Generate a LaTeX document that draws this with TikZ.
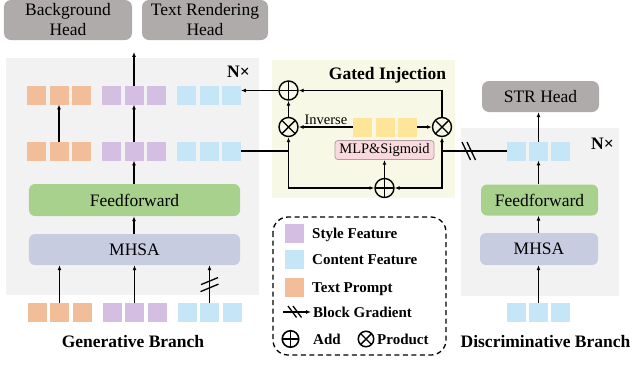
\documentclass[tikz,border=0pt]{standalone}
\usepackage{fontspec}
\setmainfont{Liberation Serif}
\usetikzlibrary{arrows.meta,calc}
\definecolor{headc}{HTML}{AFABAB}
\definecolor{genbg}{HTML}{F2F2F2}
\definecolor{gatebg}{HTML}{F7F8E5}
\definecolor{orc}{HTML}{F2BE9A}
\definecolor{puc}{HTML}{D4BEE2}
\definecolor{blc}{HTML}{C4E6F6}
\definecolor{grc}{HTML}{A9D18E}
\definecolor{mhc}{HTML}{C8CCE1}
\definecolor{yec}{HTML}{FFE599}
\definecolor{mlpf}{HTML}{F9D9DE}
\definecolor{mlpd}{HTML}{B09CA2}
\newcommand\fsA{\fontsize{17.5bp}{20bp}\selectfont}
\newcommand\fsB{\bfseries\fontsize{17.5bp}{20bp}\selectfont}
\newcommand\fsC{\bfseries\fontsize{15bp}{17bp}\selectfont}
\newcommand\fsD{\fontsize{14.5bp}{17bp}\selectfont}
\begin{document}
\begin{tikzpicture}[x=1bp,y=-1bp,
  sq/.style={minimum size=19bp,inner sep=0pt,outer sep=0pt},
  head/.style={fill=headc,rounded corners=7bp,inner sep=0pt,align=center,font=\fsA},
  blk/.style={rounded corners=6bp,inner sep=0pt,font=\fsA},
  ln/.style={line width=1.3bp},
  arr/.style={ln,-{Latex[length=4.8bp,width=3.8bp]}},
  opl/.style={circle,draw,line width=1.4bp,minimum size=#1,inner sep=0pt,
    path picture={\draw[line width=1.4bp] (path picture bounding box.north)--(path picture bounding box.south) (path picture bounding box.west)--(path picture bounding box.east);}},
  opl/.default=19bp,
  otm/.style={circle,draw,line width=1.4bp,minimum size=#1,inner sep=0pt,
    path picture={\draw[line width=1.4bp] (path picture bounding box.north west)--(path picture bounding box.south east) (path picture bounding box.south west)--(path picture bounding box.north east);}},
  otm/.default=19bp,
  lgt/.style={anchor=base west,font=\fsC,inner sep=0pt},
  ttl/.style={anchor=base,font=\fsB,inner sep=0pt},
  bmark/.style={line width=1.3bp}
]
\useasboundingbox (0,0) rectangle (633,364);
% panels
\fill[genbg] (6,58) rectangle (259,295);
\fill[gatebg] (272,60) rectangle (455,198);
\fill[genbg] (461,128) rectangle (619,296);
% heads
\node[head,minimum width=128bp,minimum height=40bp] (bgh) at (68,20) {Background\\Head};
\node[head,minimum width=126bp,minimum height=40bp] (trh) at (205,20) {Text Rendering\\Head};
\node[head,minimum width=117bp,minimum height=31bp] (str) at (540.5,96.5) {STR Head};
% generative tokens
\foreach \i/\x in {1/36.5,2/59,3/81.5}{
  \node[sq,fill=orc] (ot\i) at (\x,95) {};
  \node[sq,fill=orc] (om\i) at (\x,151) {};
  \node[sq,fill=orc] (ob\i) at (\x+0.5,312.5) {};
}
\foreach \i/\x in {1/111.5,2/134,3/156.5}{
  \node[sq,fill=puc] (pt\i) at (\x,95) {};
  \node[sq,fill=puc] (pm\i) at (\x,151) {};
  \node[sq,fill=puc] (pb\i) at (\x+0.5,312.5) {};
}
\foreach \i/\x in {1/186.5,2/209,3/231.5}{
  \node[sq,fill=blc] (bt\i) at (\x,95) {};
  \node[sq,fill=blc] (bm\i) at (\x,151) {};
  \node[sq,fill=blc] (bb\i) at (\x+0.5,312.5) {};
}
% generative blocks
\node[blk,fill=grc,minimum width=211bp,minimum height=32bp] (ffg) at (134.5,200) {Feedforward};
\node[blk,fill=mhc,minimum width=211bp,minimum height=31bp] (mhg) at (134.5,249.5) {MHSA};
\node[ttl] (gnx) at (238.5,77) {N×};
\node[ttl] (gbr) at (133,347) {Generative Branch};
% discriminative
\foreach \i/\x in {1/516.5,2/538.5,3/560.5}{
  \node[sq,fill=blc] (dm\i) at (\x,151) {};
  \node[sq,fill=blc] (db\i) at (\x,312.5) {};
}
\node[blk,fill=grc,minimum width=117bp,minimum height=31bp] (ffd) at (539.5,200) {Feedforward};
\node[blk,fill=mhc,minimum width=118bp,minimum height=32bp] (mhd) at (539,249) {MHSA};
\node[ttl] (dnx) at (602.5,149) {N×};
\node[ttl] (dbr) at (545.5,347) {Discriminative Branch};
% gated injection
\node[ttl] (gti) at (387.5,79) {Gated Injection};
\foreach \i/\x in {1/362.5,2/385,3/407.5}{
  \node[sq,fill=yec] (y\i) at (\x,127) {};
}
\node[draw=mlpd,fill=mlpf,line width=0.8bp,rounded corners=3bp,minimum width=99bp,minimum height=19bp,inner sep=0pt,font=\fsD] (mlp) at (384.5,150) {MLP\&Sigmoid};
\node[opl] (ptop) at (288.5,90.5) {};
\node[otm] (xl) at (288.5,127) {};
\node[otm] (xr) at (442,127) {};
\node[opl] (pbot) at (384.5,188) {};
\coordinate (jl) at (288.5,151);
\coordinate (jr) at (442,151);
\coordinate (gout) at (134,52);
% generative connectors
\draw[arr] (ob2.north) -- (ob2.north |- mhg.south);
\draw[arr] (pb2.north) -- (pb2.north |- mhg.south);
\draw[arr] (bb2.north) -- (bb2.north |- mhg.south);
\coordinate (bgg) at ($(bb2.north)!0.5!(bb2.north |- mhg.south)$);
\draw[bmark] ($(bgg)+(-8.5,0.5)$) -- ++(17,-7);
\draw[bmark] ($(bgg)+(-9,7.5)$) -- ++(18,-7.5);
\draw[arr] (mhg.north -| pm2) -- (ffg.south -| pm2);
\draw[arr] (ffg.north -| pm2) -- (pm2.south);
\draw[arr] (om2.north) -- (ot2.south);
\draw[arr] (pm2.north) -- (pt2.south);
\draw[arr] (pt2.north) -- (gout);
% gated connectors
\draw[ln] (bm3.east) -- (jl);
\draw[arr] (jl) -- (xl.south);
\draw[arr] (jl) |- (pbot.west);
\draw[ln] (dm1.west) -- (jr);
\coordinate (bgd) at (469,151);
\draw[bmark] ($(bgd)+(-7,-9)$) -- ++(8.5,18);
\draw[bmark] ($(bgd)+(-2,-9)$) -- ++(8.5,18);
\draw[arr] (jr) -- (xr.south);
\draw[arr] (jr) |- (pbot.east);
\draw[arr] (pbot.north) -- (mlp.south);
\draw[arr] (y1.west) -- (xl.east) node[midway,above=1.5bp,font=\fsD,inner sep=0pt] (inv) {Inverse};
\draw[arr] (y3.east) -- (xr.west);
\draw[arr] (xl.north) -- (ptop.south);
\draw[arr] (xr.north) |- (ptop.east);
\draw[arr] (ptop.west) -- (ptop.west -| bt3.east);
% discriminative connectors
\draw[arr] (db2.north) -- (db2.north |- mhd.south);
\draw[arr] (mhd.north -| db2) -- (ffd.south -| db2);
\draw[arr] (ffd.north -| dm2) -- (dm2.south);
\draw[arr] (dm2.north) -- (dm2.north |- str.south);
% legend
\draw[ln,dash pattern=on 5bp off 3.5bp,rounded corners=15bp] (273,217) rectangle (446,355);
\node[sq,fill=puc] (lsty) at (294,233.5) {};
\node[sq,fill=blc] (lcon) at (294,259.5) {};
\node[sq,fill=orc] (ltxt) at (294,287) {};
\node[lgt] (tsty) at (312,238.5) {Style Feature};
\node[lgt] (tcon) at (312,264.5) {Content Feature};
\node[lgt] (ttxt) at (312,292) {Text Prompt};
\coordinate (lga) at (283,312);
\coordinate (lgb) at (311,312);
\draw[arr] (lga) -- (lgb);
\draw[bmark] ($(lga)+(5,-6)$) -- ++(8.5,11.5);
\draw[bmark] ($(lga)+(10,-6)$) -- ++(8.5,11.5);
\node[lgt] (tblk) at (313,317) {Block Gradient};
\node[opl=16.5bp,line width=1.6bp] (ladd) at (290.5,339) {};
\node[lgt] (tadd) at (313,344) {Add};
\node[otm=15.5bp,line width=1.5bp] (lprd) at (366,339) {};
\node[lgt] (tprd) at (377,344) {Product};
\end{tikzpicture}
\end{document}
